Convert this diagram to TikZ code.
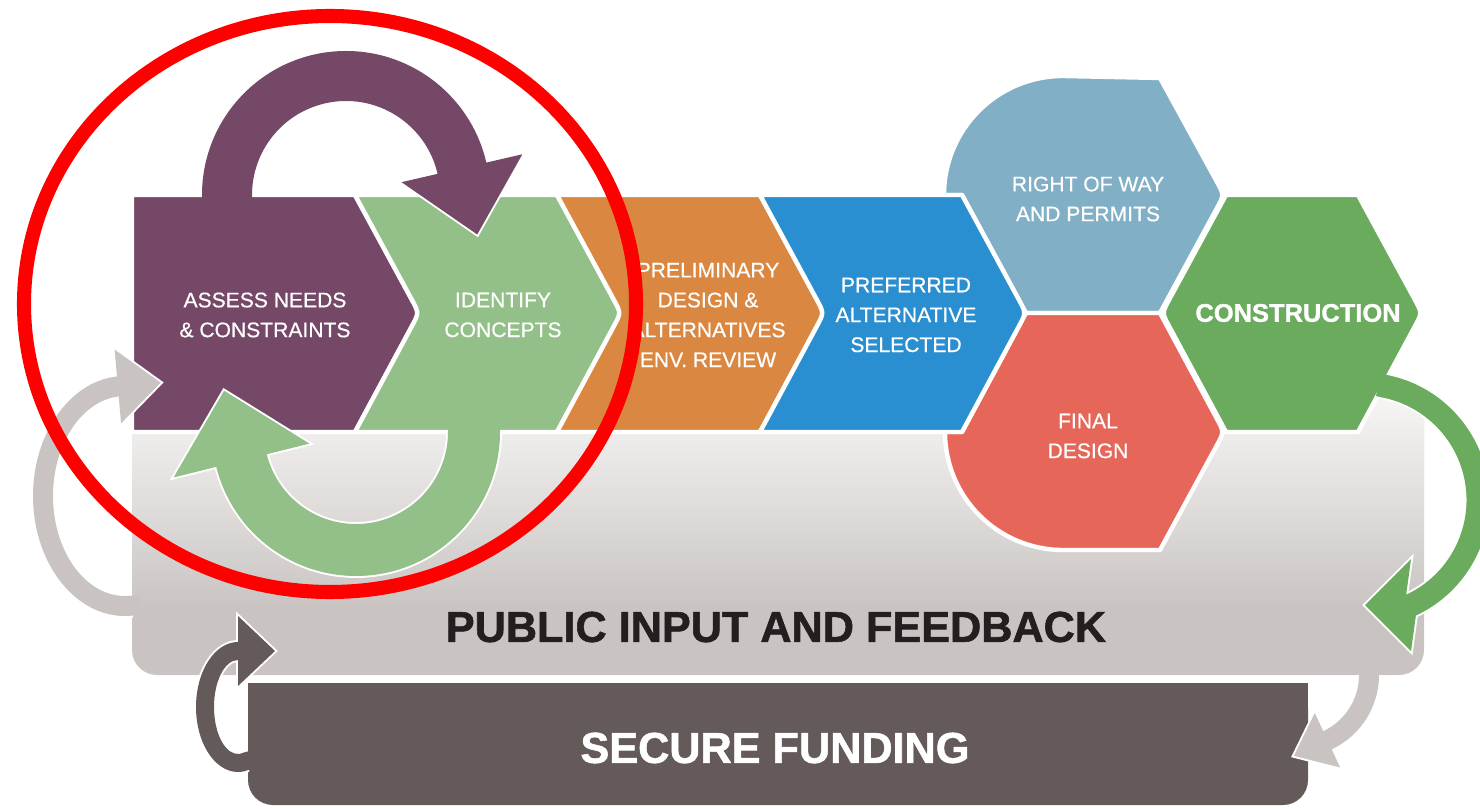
\documentclass[tikz,border=0pt]{standalone}
\usepackage{fontspec}
\setmainfont{Liberation Sans}
\newfontfamily\heavyfont{Liberation Sans}[BoldFeatures={FakeBold=1.3}]
\newfontfamily\stepfont{Liberation Sans}[FakeBold=0.5]
\usetikzlibrary{calc}

\definecolor{assesspurple}{HTML}{754868}
\definecolor{conceptgreen}{HTML}{93BF88}
\definecolor{prelimorange}{HTML}{DA8841}
\definecolor{preferredblue}{HTML}{2A8FD0}
\definecolor{waybluegrey}{HTML}{80AFC6}
\definecolor{finalred}{HTML}{E6675A}
\definecolor{buildgreen}{HTML}{6AAB5E}
\definecolor{bandgrey}{HTML}{C9C4C2}
\definecolor{bandtop}{HTML}{F7F6F5}
\definecolor{fundgrey}{HTML}{645A59}
\definecolor{titleblack}{HTML}{231F20}

\def\parsehead#1/#2/#3\relax{\def\headlen{#1}\def\headhw{#2}\def\headturn{#3}}

\newcommand{\looparrow}[8]{%
  \parsehead#8\relax
  \pgfmathsetmacro\rxo{#3+#5}\pgfmathsetmacro\ryo{#4+#5}%
  \pgfmathsetmacro\rxi{#3-#5}\pgfmathsetmacro\ryi{#4-#5}%
  \pgfmathsetmacro\tipdir{#7-90+\headturn}%
  \pgfmathsetmacro\barbdir{#7+\headturn}%
  \coordinate (lc) at #2;
  \coordinate (le) at ($(lc)+({#3*cos(#7)},{#4*sin(#7)})$);
  \coordinate (los) at ($(lc)+({\rxo*cos(#6)},{\ryo*sin(#6)})$);
  \coordinate (lis) at ($(lc)+({\rxi*cos(#6)},{\ryi*sin(#6)})$);
  \coordinate (lie) at ($(lc)+({\rxi*cos(#7)},{\ryi*sin(#7)})$);
  \draw[white, line width=2.2pt] (los)
    arc[start angle=#6, end angle=#7, x radius=\rxo, y radius=\ryo]
    -- ($(le)+(\barbdir:\headhw)$) -- ($(le)+(\tipdir:\headlen)$) -- ($(le)+(\barbdir+180:\headhw)$)
    -- (lie) arc[start angle=#7, end angle=#6, x radius=\rxi, y radius=\ryi];
  \fill[#1] ($(los)+(#6+90:8)$) -- (los)
    arc[start angle=#6, end angle=#7, x radius=\rxo, y radius=\ryo]
    -- ($(le)+(\barbdir:\headhw)$) -- ($(le)+(\tipdir:\headlen)$) -- ($(le)+(\barbdir+180:\headhw)$)
    -- (lie) arc[start angle=#7, end angle=#6, x radius=\rxi, y radius=\ryi]
    -- ($(lis)+(#6+90:8)$) -- cycle;
}

\begin{document}
\begin{tikzpicture}[x=0.02cm, y=0.02cm,
  stepshape/.style={draw=white, line width=2.5pt, line join=round},
  steptext/.style={text=white, align=center, font=\stepfont\fontsize{12}{17}\selectfont},
  boldtext/.style={font=\heavyfont\bfseries\fontsize{24.6}{28}\selectfont}]
\useasboundingbox (0,0) rectangle (1480,808);
\clip (0,0) rectangle (1480,808);

\fill[bandgrey, rounded corners=0.5cm] (132,133) rectangle (1424,413);
\begin{scope}
\clip[rounded corners=0.5cm] (132,133) rectangle (1424,413);
\shade[top color=bandtop, bottom color=bandgrey] (132,198) rectangle (1424,413);
\end{scope}

\fill[fundgrey, rounded corners=0.5cm] (248,3) rectangle (1308,125);
\fill[fundgrey] (248,60) rectangle (1308,125);

\filldraw[stepshape, fill=waybluegrey] (944,613) arc[start angle=180, end angle=90, radius=119]
  -- (1160,730) -- (1217,626) .. controls (1224,613) .. (1217,600) -- (1160,495) -- (1026,495) -- (962,613) -- cycle;
\filldraw[stepshape, fill=finalred] (1026,495) -- (1160,495) -- (1217,389) .. controls (1224,376) .. (1217,363)
  -- (1160,258) -- (1063,258) arc[start angle=270, end angle=180, radius=118] -- (962,376) -- cycle;

\filldraw[stepshape, fill=assesspurple] (132,613) -- (355,613) -- (412,508) .. controls (419,495) .. (412,482)
  -- (355,376) -- (132,376) -- cycle;
\foreach \a/\b/\col in {355/557/conceptgreen, 557/760/prelimorange, 760/962/preferredblue}
  \filldraw[stepshape, fill=\col] (\a,613) -- (\b,613) -- (\b+57,508) .. controls (\b+64,495) .. (\b+57,482)
    -- (\b,376) -- (\a,376) -- (\a+57,482) .. controls (\a+64,495) .. (\a+57,508) -- cycle;

\filldraw[stepshape, fill=buildgreen] (1169,508) -- (1226,613) -- (1358,613) -- (1415,508) .. controls (1422,495) .. (1415,482)
  -- (1358,376) -- (1226,376) -- (1169,482) .. controls (1162,495) .. (1169,508) -- cycle;

\looparrow{assesspurple}{(346,613)}{119}{119}{25}{180}{13}{68/62/0}
\looparrow{conceptgreen}{(356,376)}{118}{118}{26}{0}{-166}{72/70/0}
\looparrow{bandgrey}{(125,312)}{82}{110}{10}{275}{95}{43/37/0}
\looparrow{fundgrey}{(238,101)}{33}{56}{9}{285}{90}{37/35/0}
\looparrow{buildgreen}{(1362,308)}{116}{116}{11.5}{78}{-65}{46/46/-25}
\looparrow{bandgrey}{(1297,133)}{72}{72}{10}{0}{-65}{37/30/0}

\node[steptext] (assess) at (265,493) {ASSESS NEEDS\\\& CONSTRAINTS};
\node[steptext] (identify) at (503,493) {IDENTIFY\\CONCEPTS};
\node[steptext] (prelim) at (708,493) {PRELIMINARY\\DESIGN \&\\ALTERNATIVES\\ENV. REVIEW};
\node[steptext] (preferred) at (906,493) {PREFERRED\\ALTERNATIVE\\SELECTED};
\node[steptext] (rightofway) at (1088,609) {RIGHT OF WAY\\AND PERMITS};
\node[steptext] (final) at (1088,372) {FINAL\\DESIGN};
\node[text=white, font=\heavyfont\bfseries\fontsize{14.5}{17}\selectfont] (construction) at (1298,495) {CONSTRUCTION};
\node[boldtext, text=titleblack] (public) at (776,181) {PUBLIC INPUT AND FEEDBACK};
\node[boldtext, text=white] (funding) at (775,60) {SECURE FUNDING};

\draw[red, line width=8pt] (330,504) ellipse [x radius=306, y radius=288];
\end{tikzpicture}
\end{document}
